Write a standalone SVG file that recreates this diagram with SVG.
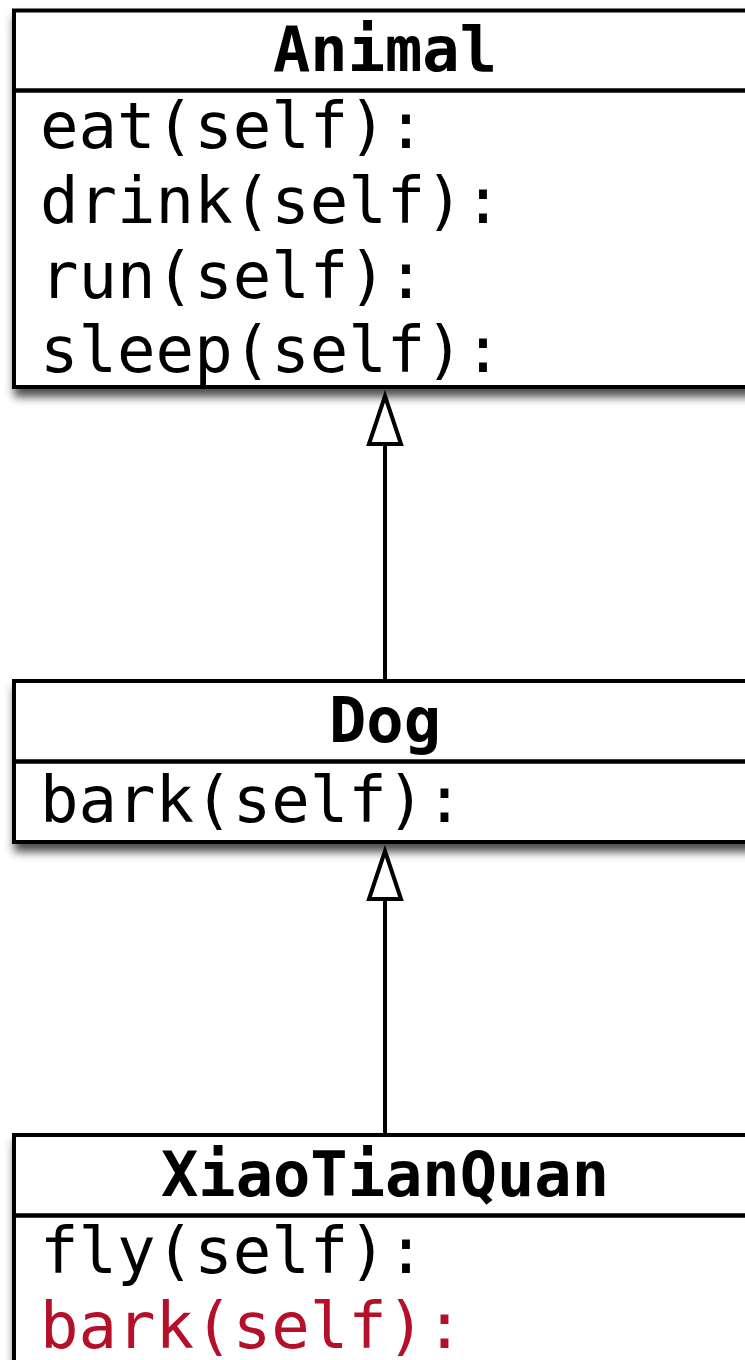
<svg xmlns="http://www.w3.org/2000/svg" width="745" height="1360" viewBox="0 0 745 1360">
  <style>
    .box { fill: #ffffff; stroke: #000000; stroke-width: 4; }
    .shadowed { filter: url(#shadow); }
    .sep { stroke: #000000; stroke-width: 4.5; }
    .title { font-family: "DejaVu Sans Mono", "Liberation Mono", monospace; font-size: 62px; font-weight: bold; text-anchor: middle; fill: #000000; }
    .member { font-family: "DejaVu Sans Mono", "Liberation Mono", monospace; font-size: 64px; fill: #000000; }
    .override { fill: #b5102a; }
    .edge { fill: none; stroke: #000000; stroke-width: 4; }
  </style>
  <defs>
    <filter id="shadow" x="-5%" y="-10%" width="115%" height="135%">
      <feDropShadow dx="2" dy="8" stdDeviation="5" flood-color="#000000" flood-opacity="0.7"/>
    </filter>
    <!-- hollow triangle: UML generalization head -->
    <marker id="inherit" markerUnits="userSpaceOnUse" viewBox="-54 -20 60 40" markerWidth="60" markerHeight="40" refX="0" refY="0" orient="auto">
      <path d="M-48,-16 L0,0 L-48,16 Z" fill="#ffffff" stroke="#000000" stroke-width="4"/>
    </marker>
  </defs>

  <rect width="745" height="1360" fill="#ffffff"/>

  <g id="Animal">
    <rect class="box shadowed" x="14" y="10.5" width="742" height="376.5"/>
    <line class="sep" x1="14" y1="90.5" x2="756" y2="90.5"/>
    <text class="title" x="385" y="71">Animal</text>
    <text class="member" x="40" y="148">eat(self):</text>
    <text class="member" x="40" y="223">drink(self):</text>
    <text class="member" x="40" y="298">run(self):</text>
    <text class="member" x="40" y="372">sleep(self):</text>
  </g>

  <g id="Dog">
    <rect class="box shadowed" x="14" y="681" width="742" height="161"/>
    <line class="sep" x1="14" y1="761.5" x2="756" y2="761.5"/>
    <text class="title" x="385" y="742">Dog</text>
    <text class="member" x="40" y="822">bark(self):</text>
  </g>

  <g id="XiaoTianQuan">
    <rect class="box shadowed" x="14" y="1135" width="742" height="227"/>
    <line class="sep" x1="14" y1="1215.5" x2="756" y2="1215.5"/>
    <text class="title" x="385" y="1196">XiaoTianQuan</text>
    <text class="member" x="40" y="1273">fly(self):</text>
    <text class="member override" x="40" y="1348">bark(self):</text>
  </g>

  <g id="connectors">
    <path class="edge" d="M385,681 V396" marker-end="url(#inherit)"/>
    <path class="edge" d="M385,1135 V851" marker-end="url(#inherit)"/>
  </g>
</svg>
